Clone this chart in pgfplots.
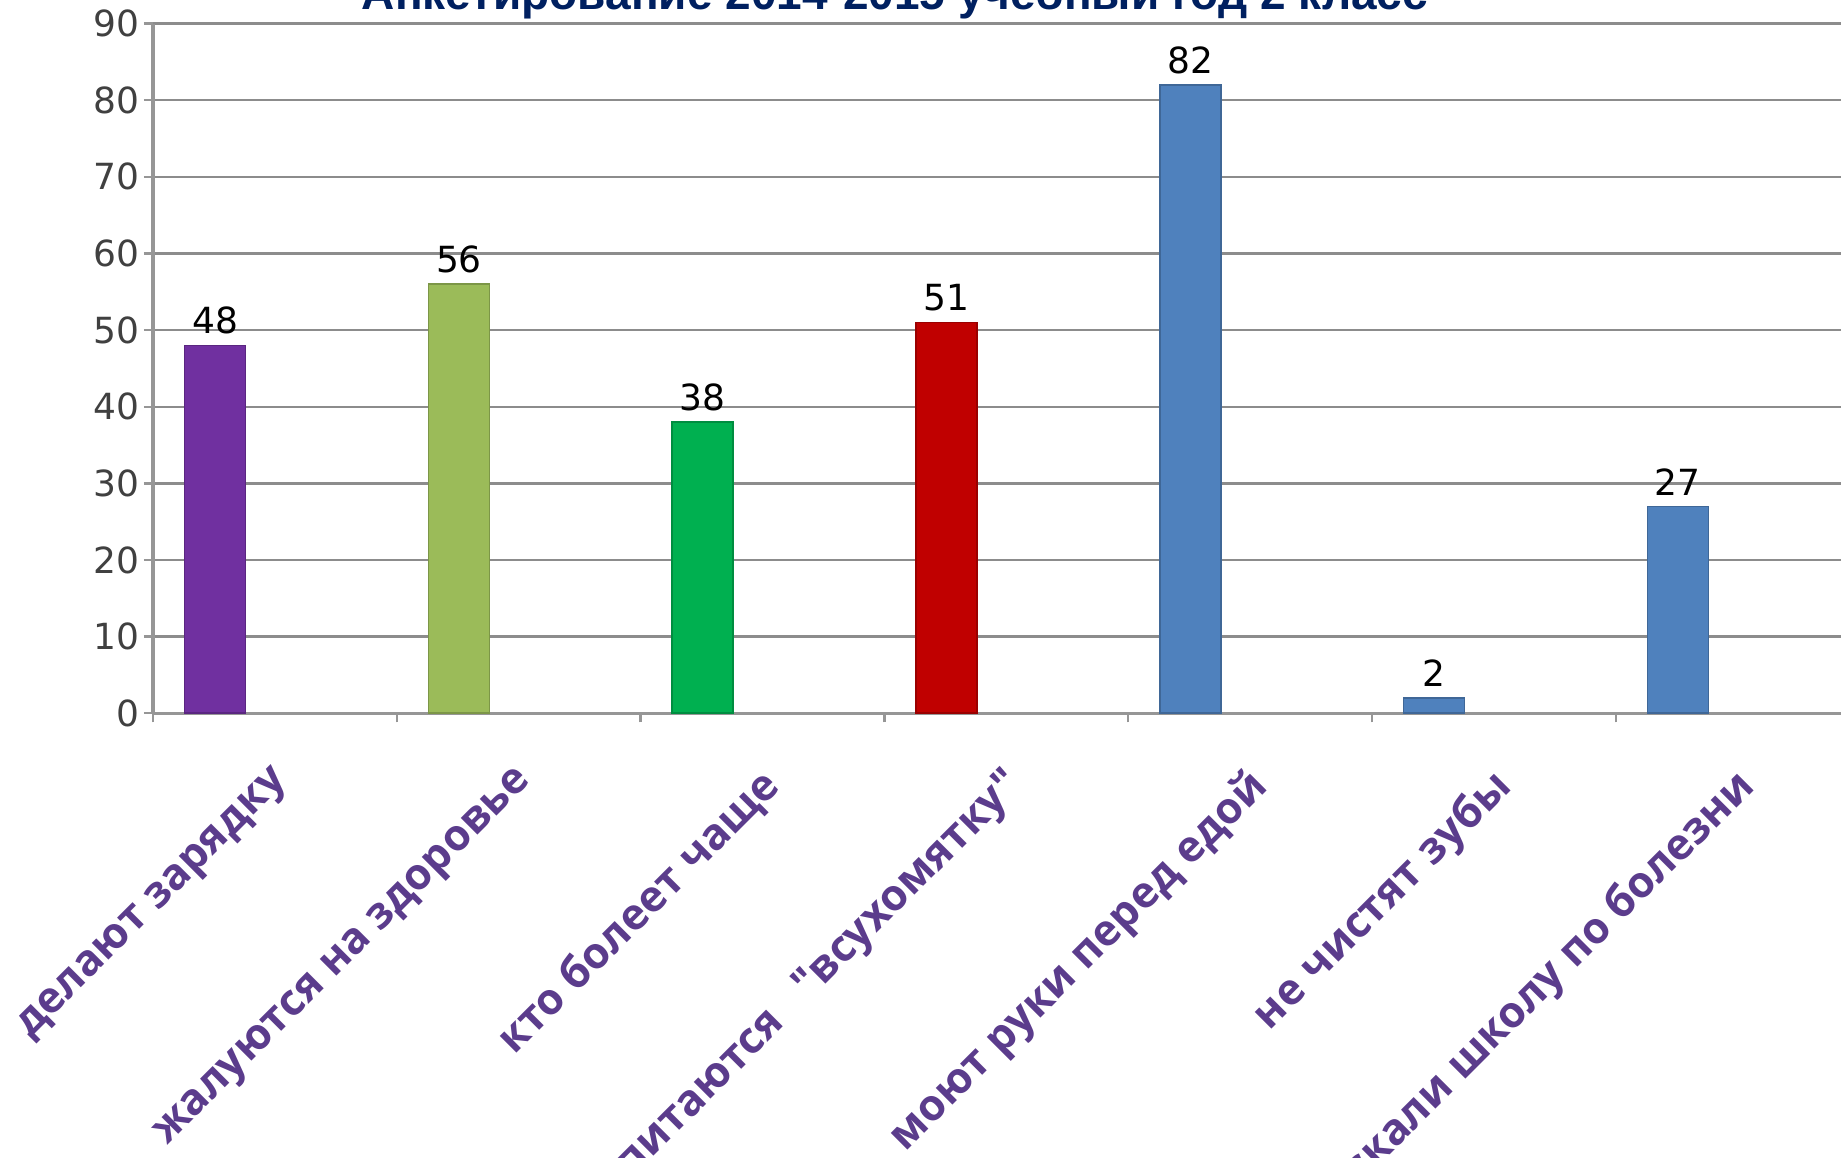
\documentclass[border=0pt]{standalone}
\usepackage{fontspec}
\setmainfont{DejaVu Sans}
\newfontfamily\labfont{Open Sans}
\newfontfamily\titlefont{Liberation Sans}
\usepackage{pgfplots}
\pgfplotsset{compat=1.18}
\definecolor{gridgray}{RGB}{140,140,140}
\definecolor{axgray}{RGB}{150,150,150}
\definecolor{labpurple}{RGB}{91,60,140}
\definecolor{navy}{RGB}{0,32,96}
\definecolor{cpurple}{RGB}{112,48,160}
\definecolor{clgreen}{RGB}{155,187,89}
\definecolor{cgreen}{RGB}{0,176,80}
\definecolor{cred}{RGB}{192,0,0}
\definecolor{cblue}{RGB}{79,129,189}
\definecolor{ticktext}{RGB}{64,64,64}
\begin{document}
\begin{tikzpicture}
\path[use as bounding box] (-38.25pt,-111pt) rectangle (422pt,178.3pt);
\clip (-38.25pt,-111pt) rectangle (422pt,178.3pt);
\begin{axis}[
  at={(0,0)}, anchor=south west, scale only axis,
  width=422pt, height=172.4pt,
  xmin=0, xmax=6.924, ymin=0, ymax=90,
  ybar, bar width=15.25pt,
  ytick={0,10,...,90},
  ymajorgrids,
  major grid style={gridgray, line width=0.6pt},
  axis x line*=bottom, axis y line*=left,
  axis line style={axgray, line width=0.8pt, -},
  tick align=outside,
  major tick length=2.3pt,
  ytick style={axgray, line width=0.6pt},
  yticklabel style={font=\fontsize{9}{10}\selectfont, text=ticktext, xshift=2.5pt},
  /pgf/number format/assume math mode=true,
  xtick={0.5,1.5,...,6.5},
  xticklabels={делают зарядку, жалуются на здоровье, кто болеет чаще, {питаются \ \ "всухомятку"}, моют руки перед едой, не чистят зубы, пропускали школу по болезни},
  xtick style={draw=none},
  xticklabel style={font=\labfont\bfseries\fontsize{10.8}{12}\selectfont, text=labpurple, rotate=45, anchor=north east, inner sep=0pt, xshift=-8pt, yshift=-6.5pt},
  extra x ticks={0,1,...,6},
  extra x tick labels={},
  extra x tick style={xmajorgrids=false, xtick style={draw=axgray, line width=0.6pt}},
  nodes near coords,
  every node near coord/.append style={font=\fontsize{9}{10}\selectfont, text=black, inner sep=2.6pt},
  clip=false,
]
\addplot[bar shift=0pt, fill=cpurple, draw=cpurple!80!black] coordinates {(0.255,48)};
\addplot[bar shift=0pt, fill=clgreen, draw=clgreen!80!black] coordinates {(1.255,56)};
\addplot[bar shift=0pt, fill=cgreen, draw=cgreen!80!black] coordinates {(2.255,38)};
\addplot[bar shift=0pt, fill=cred, draw=cred!80!black] coordinates {(3.255,51)};
\addplot[bar shift=0pt, fill=cblue, draw=cblue!80!black] coordinates {(4.255,82)};
\addplot[bar shift=0pt, fill=cblue, draw=cblue!80!black] coordinates {(5.255,2)};
\addplot[bar shift=0pt, fill=cblue, draw=cblue!80!black] coordinates {(6.255,27)};
\end{axis}
\node[font=\titlefont\bfseries\fontsize{11.5}{13}\selectfont, text=navy, anchor=base] at (185.5pt,175.8pt) {Анкетирование 2014-2015 учебный год 2 класс};
\end{tikzpicture}
\end{document}
